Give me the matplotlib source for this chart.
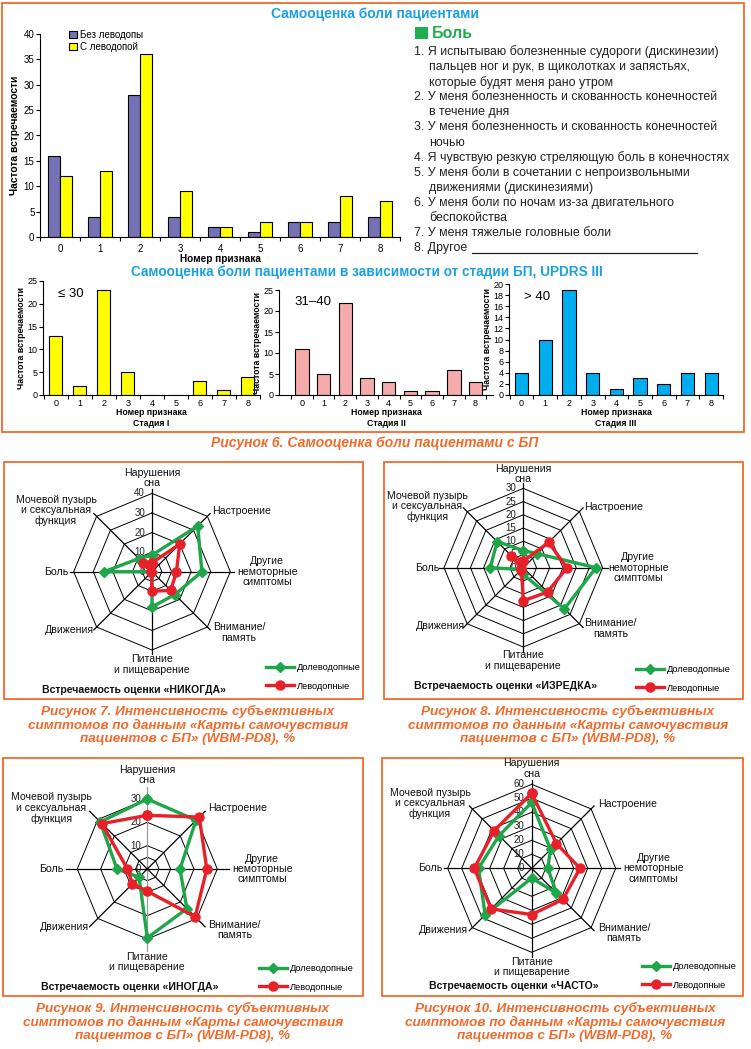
import numpy as np
import matplotlib
matplotlib.use("Agg")
from matplotlib import pyplot as plt
from matplotlib.patches import Rectangle

plt.rcParams['font.family'] = ['Liberation Sans', 'DejaVu Sans']

W, H = 751, 1049

# ---- данные: самооценка боли (рисунок 6)
signs = list(range(9))
no_levodopa = [16, 4, 28, 4, 2, 1, 3, 3, 4]
with_levodopa = [12, 13, 36, 9, 2, 3, 3, 8, 7]
stage1 = [13, 2, 23, 5, 0, 0, 3, 1, 4]
stage2 = [11, 5, 22, 4, 3, 1, 1, 6, 3]
stage3 = [4, 10, 19, 4, 1, 3, 2, 4, 4]

pain_items = [
    ["1. Я испытываю болезненные судороги (дискинезии)",
     "пальцев ног и рук, в щиколотках и запястьях,",
     "которые будят меня рано утром"],
    ["2. У меня болезненность и скованность конечностей",
     "в течение дня"],
    ["3. У меня болезненность и скованность конечностей",
     "ночью"],
    ["4. Я чувствую резкую стреляющую боль в конечностях"],
    ["5. У меня боли в сочетании с непроизвольными",
     "движениями (дискинезиями)"],
    ["6. У меня боли по ночам из-за двигательного",
     "беспокойства"],
    ["7. У меня тяжелые головные боли"],
    ["8. Другое"],
]

# ---- данные: WBM-PD8 (рисунки 7-10), по часовой стрелке от верха
domains = ["Нарушения\nсна", "Настроение", "Другие\nнемоторные\nсимптомы",
           "Внимание/\nпамять", "Питание\nи пищеварение", "Движения", "Боль",
           "Мочевой пузырь\nи сексуальная\nфункция"]
never_pre = [8.5, 33, 25.5, 16.5, 18, 0, 24.5, 9.5]
never_levo = [4.5, 20, 12.5, 13.5, 10, 0.5, 0.5, 6.5]
rarely_pre = [6.5, 7.5, 27.5, 22, 2.5, 1, 12.5, 14]
rarely_levo = [2.5, 13.5, 16.5, 13, 12.5, 1, 1, 6.5]
sometimes_pre = [30, 29.5, 14, 24, 29.5, 5, 13, 28.5]
sometimes_levo = [23, 31.5, 25.5, 29, 9.5, 9, 8.5, 27.5]
often_pre = [47, 19, 11.5, 25, 7, 47, 38, 33]
often_levo = [53.5, 25, 34.5, 31.5, 33, 41, 41, 38]

ORANGE = "#f26a2a"
BLUE_T = "#1ba1e2"
GREEN = "#1fa64a"
RED = "#e8202a"

# смещения подписей осей от центра (пиксели)
label_off = [(0, -94), (90, -61), (115, 0), (87, 61), (0, 93), (-83, 58),
             (-96, 0), (-96, -61)]


def px_axes(fig, x0, y0, x1, y1):
    ax = fig.add_axes([x0 / W, 1 - y1 / H, (x1 - x0) / W, (y1 - y0) / H])
    ax.patch.set_alpha(0)
    return ax


def style_bars(ax, xlim, ymax, ystep, fs):
    ax.set_xlim(xlim)
    ax.set_ylim(0, ymax)
    ax.set_yticks(np.arange(0, ymax + 1, ystep))
    for s in ["top", "right"]:
        ax.spines[s].set_visible(False)
    ax.spines["left"].set_linewidth(0.8)
    ax.spines["bottom"].set_linewidth(0.8)
    ax.set_xticks(signs)
    ax.set_xticks(np.arange(-0.5, 9, 1), minor=True)
    ax.tick_params(axis="x", which="major", length=0, labelsize=fs, pad=5)
    ax.tick_params(axis="x", which="minor", length=3, width=0.8)
    ax.tick_params(axis="y", length=3, width=0.8, labelsize=fs, pad=1)


def stage_panel(fig, box, values, color, xlim, ymax, ystep, width, note, stage):
    ax = px_axes(fig, *box)
    ax.bar(signs, values, width, color=color, edgecolor="black", lw=0.8)
    style_bars(ax, xlim, ymax, ystep, 6.5)
    ax.tick_params(axis="x", which="major", pad=3)
    ax.set_ylabel("Частота встречаемости", fontsize=6.3, fontweight="bold", labelpad=1)
    ax.set_xlabel("Номер признака\n" + stage, fontsize=6.3, fontweight="bold",
                  labelpad=0, linespacing=1.3)
    ax.text(0.07, 0.86, note, transform=ax.transAxes, fontsize=9.5)
    return ax


def radar(fig, ov, cx, cy, rpx, vmax, rings, ticks, ext, pre, levo, title,
          leg_xy, grey_vertical=False, lab_scale=1.0):
    k = 1.3
    ax = px_axes(fig, cx - rpx * k, cy - rpx * k, cx + rpx * k, cy + rpx * k)
    s = vmax * k
    ax.set_xlim(-s, s)
    ax.set_ylim(-s, s)
    ax.axis("off")
    ang = np.arange(8) * np.pi / 4
    sx, sy = np.sin(ang), np.cos(ang)
    for r in rings:
        ax.plot(np.append(r * sx, r * sx[0]), np.append(r * sy, r * sy[0]),
                color="black", lw=0.7, zorder=1)
    for i in range(8):
        c = "#9a9a9a" if (grey_vertical and i in (0, 4)) else "black"
        ax.plot([0, ext * sx[i]], [0, ext * sy[i]], color=c, lw=0.9, zorder=1)
    pre = np.array(pre)
    levo = np.array(levo)
    lg, = ax.plot(np.append(pre * sx, pre[0] * sx[0]), np.append(pre * sy, pre[0] * sy[0]),
                  color=GREEN, lw=2.4, marker="D", ms=5, zorder=3, label="Долеводопные")
    lr, = ax.plot(np.append(levo * sx, levo[0] * sx[0]), np.append(levo * sy, levo[0] * sy[0]),
                  color=RED, lw=2.4, marker="o", ms=6.5, zorder=4, label="Леводопные")
    for t in ticks:
        ax.text(-0.09 * vmax, t, str(t), ha="right", va="center", fontsize=7,
                color="#222222", zorder=2)
    for name, (dx, dy) in zip(domains, label_off):
        ov.text(cx + dx * lab_scale, cy + dy * lab_scale, name, ha="center", va="center",
                fontsize=7.6, linespacing=1.05, color="#111111")
    ov.text(cx - 18, cy + 118, title, ha="center", va="center", fontsize=7.6,
            fontweight="bold", color="#111111")
    ax.legend(handles=[lg, lr], loc="center left", frameon=False, fontsize=6.7,
              handlelength=3.0, labelspacing=1.0, handletextpad=0.3,
              bbox_to_anchor=(leg_xy[0] / W, 1 - leg_xy[1] / H),
              bbox_transform=fig.transFigure)
    return ax


fig = plt.figure(figsize=(W / 100, H / 100), dpi=100)
ov = fig.add_axes([0, 0, 1, 1])
ov.set_xlim(0, W)
ov.set_ylim(H, 0)
ov.axis("off")

# ---- рамки
for (x0, y0, x1, y1) in [(2, 3, 744, 432), (4, 462, 363, 699), (384, 462, 743, 699),
                         (3, 758, 363, 996), (382, 758, 743, 996)]:
    ov.add_patch(Rectangle((x0, y0), x1 - x0, y1 - y0, fill=False, ec=ORANGE, lw=1.3))

# ---- верхний график
ov.text(375, 14, "Самооценка боли пациентами", ha="center", va="center",
        fontsize=10, fontweight="bold", color=BLUE_T)
ax = px_axes(fig, 40, 34, 400, 237)
x = np.array(signs)
b1 = ax.bar(x - 0.145, no_levodopa, 0.29, color="#7571b5", edgecolor="black", lw=0.8,
            label="Без леводопы")
b2 = ax.bar(x + 0.145, with_levodopa, 0.29, color="#ffff00", edgecolor="black", lw=0.8,
            label="С леводопой")
style_bars(ax, (-0.5, 8.5), 40, 5, 7)
ax.set_ylabel("Частота встречаемости", fontsize=7.4, fontweight="bold", labelpad=3)
ax.set_xlabel("Номер признака", fontsize=7.2, fontweight="bold", labelpad=0)
ax.legend(handles=[b1, b2], loc="upper left", frameon=False, fontsize=7,
          handlelength=0.8, handleheight=0.8, handletextpad=0.4, labelspacing=0.2,
          bbox_to_anchor=(60 / W, 1 - 21 / H), bbox_transform=fig.transFigure)

# ---- шкала "Боль"
ov.add_patch(Rectangle((415, 27), 13, 12, color="#1fae4c", lw=0))
ov.text(432, 33, "Боль", ha="left", va="center", fontsize=11.5, fontweight="bold",
        color="#1fae4c")
row = 0
for item in pain_items:
    for j, line in enumerate(item):
        ov.text(414 if j == 0 else 429, 52 + 15.1 * row, line, ha="left", va="center",
                fontsize=8.9, color="#222222")
        row += 1
ov.plot([472, 697], [253, 253], color="#222222", lw=0.9)

# ---- по стадиям
ov.text(367, 272, "Самооценка боли пациентами в зависимости от стадии БП, UPDRS III",
        ha="center", va="center", fontsize=9.8, fontweight="bold", color=BLUE_T)
stage_panel(fig, (43, 281, 260, 395), stage1, "#ffff00", (-0.53, 8.5), 25, 5, 0.54,
            "≤ 30", "Стадия I")
stage_panel(fig, (279, 290, 493, 395), stage2, "#f5aaac", (-1.05, 8.8), 25, 5, 0.62,
            "31–40", "Стадия II")
stage_panel(fig, (509, 284, 723, 395), stage3, "#00aeef", (-0.53, 8.45), 20, 2, 0.56,
            "> 40", "Стадия III")

ov.text(375, 443, "Рисунок 6. Самооценка боли пациентами с БП", ha="center",
        va="center", fontsize=10, fontweight="bold", style="italic", color=ORANGE)

# ---- лепестковые диаграммы
radar(fig, ov, 152, 571.7, 78.3, 40, [5, 10, 20, 30, 40], [0, 10, 20, 30, 40], 42,
      never_pre, never_levo, "Встречаемость оценки «НИКОГДА»", (258, 677))
radar(fig, ov, 523.3, 567.7, 79.3, 30, [5, 10, 15, 20, 25, 30], [0, 5, 10, 15, 20, 25, 30], 32,
      rarely_pre, rarely_levo, "Встречаемость оценки «ИЗРЕДКА»", (628, 679))
radar(fig, ov, 147.3, 869, 70, 30, [5, 10, 20, 30], [0, 10, 20, 30], 35,
      sometimes_pre, sometimes_levo, "Встречаемость оценки «ИНОГДА»", (251, 978),
      grey_vertical=True)
radar(fig, ov, 531.7, 868.3, 84, 60, [10, 20, 30, 40, 50, 60], [0, 10, 20, 30, 40, 50, 60], 63,
      often_pre, often_levo, "Встречаемость оценки «ЧАСТО»", (634, 976), lab_scale=1.06)

captions = [(188, 711, "Рисунок 7"), (568, 711, "Рисунок 8"),
            (183, 1008, "Рисунок 9"), (565, 1008, "Рисунок 10")]
for cx, cy, name in captions:
    lines = [name + ". Интенсивность субъективных",
             "симптомов по данным «Карты самочувствия",
             "пациентов с БП» (WBM-PD8), %"]
    for i, line in enumerate(lines):
        ov.text(cx, cy + 14 * i, line, ha="center", va="center", fontsize=9.7,
                fontweight="bold", style="italic", color=ORANGE)

fig.savefig("out.png", dpi=100)
